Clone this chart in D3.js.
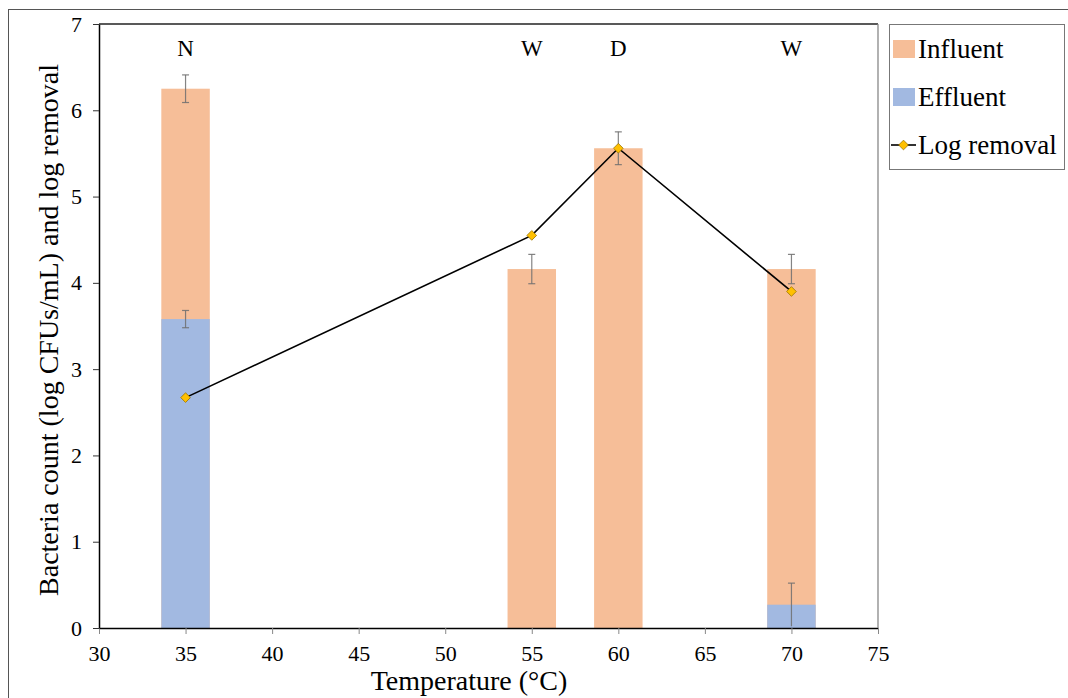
<!DOCTYPE html>
<html lang="en">
<head>
    <meta charset="UTF-8">
    <title>Bacteria count and log removal</title>
    <style>
        body { margin: 0; background: #fff; }
        svg { font-family: "Liberation Serif", Tinos, "Times New Roman", Times, serif; }
        svg text { fill: #000; }
    </style>
    <script src="https://d3js.org/d3.v7.min.js"></script>
</head>
<body>
    <svg width="1068" height="698"></svg>
    <script>
        // values
        const temps = [35, 55, 60, 70];
        const influent = [6.25, 4.16, 5.56, 4.16];
        const influentErr = [0.16, 0.17, 0.19, 0.17];
        const effluent = [3.58, 0, 0, 0.27];
        const effluentErr = [0.10, 0, 0, 0.25];
        const logRemoval = [2.67, 4.55, 5.56, 3.90];
        const flags = ["N", "W", "D", "W"];
        const xTicks = [30, 35, 40, 45, 50, 55, 60, 65, 70, 75];
        const yTicks = [0, 1, 2, 3, 4, 5, 6, 7];
        const legendItems = ["Influent", "Effluent", "Log removal"];

        const width = 1068, height = 698;
        const svg = d3.select("svg").attr("width", width).attr("height", height);

        const x = d3.scaleLinear().domain([30, 75]).range([99, 878]);
        const y = d3.scaleLinear().domain([0, 7]).range([628, 24]);
        const barW = x(32.8) - x(30);

        const colInf = "#f6be98", colEff = "#a2b9e1";

        // outer frame
        svg.append("rect")
            .attr("x", 8.5).attr("y", 9.5)
            .attr("width", width + 20).attr("height", height + 20)
            .attr("fill", "none").attr("stroke", "#555").attr("stroke-width", 1);

        const rows = temps.map((t, i) => ({
            t: t, inf: influent[i], infE: influentErr[i],
            eff: effluent[i], effE: effluentErr[i], lr: logRemoval[i], flag: flags[i]
        }));

        // bars: influent behind, effluent in front
        svg.append("g").selectAll("rect")
            .data(rows).enter().append("rect")
            .attr("x", d => x(d.t) - barW / 2)
            .attr("y", d => y(d.inf))
            .attr("width", barW)
            .attr("height", d => y(0) - y(d.inf))
            .attr("fill", colInf);

        svg.append("g").selectAll("rect")
            .data(rows.filter(d => d.eff > 0)).enter().append("rect")
            .attr("x", d => x(d.t) - barW / 2)
            .attr("y", d => y(d.eff))
            .attr("width", barW)
            .attr("height", d => y(0) - y(d.eff))
            .attr("fill", colEff);

        // error bars
        function errBars(vals, key, errKey) {
            const g = svg.append("g")
                .attr("stroke", "#6f6f6f").attr("stroke-opacity", 0.85).attr("stroke-width", 1.2);
            vals.filter(d => d[errKey] > 0).forEach(d => {
                const lo = Math.max(0, d[key] - d[errKey]), hi = d[key] + d[errKey];
                const cx = x(d.t);
                g.append("line").attr("x1", cx).attr("x2", cx).attr("y1", y(lo)).attr("y2", y(hi));
                g.append("line").attr("x1", cx - 3.5).attr("x2", cx + 3.5).attr("y1", y(hi)).attr("y2", y(hi));
                if (lo > 0.05) {
                    g.append("line").attr("x1", cx - 3.5).attr("x2", cx + 3.5).attr("y1", y(lo)).attr("y2", y(lo));
                }
            });
        }
        errBars(rows, "inf", "infE");
        errBars(rows, "eff", "effE");

        // axes
        const xAxis = svg.append("g")
            .attr("transform", `translate(0, ${y(0)})`)
            .call(d3.axisBottom(x).tickValues(xTicks).tickFormat(d3.format("d"))
                .tickSize(6).tickSizeOuter(0).tickPadding(11));
        xAxis.attr("font-family", null).attr("font-size", 22);
        xAxis.select(".domain").attr("stroke", "#000").attr("stroke-width", 1.5);
        xAxis.selectAll(".tick line").attr("stroke", "#888");

        const yAxis = svg.append("g")
            .attr("transform", `translate(${x(30)}, 0)`)
            .call(d3.axisLeft(y).tickValues(yTicks).tickFormat(d3.format("d"))
                .tickSize(6).tickSizeOuter(0).tickPadding(11));
        yAxis.attr("font-family", null).attr("font-size", 22);
        yAxis.select(".domain").attr("stroke", "#000").attr("stroke-width", 1.5);
        yAxis.selectAll(".tick line").attr("stroke", "#333");

        // plot frame top and right
        svg.append("line").attr("x1", x(30)).attr("x2", x(75)).attr("y1", y(7)).attr("y2", y(7))
            .attr("stroke", "#222").attr("stroke-width", 1.3);
        svg.append("line").attr("x1", x(75)).attr("x2", x(75)).attr("y1", y(7)).attr("y2", y(0))
            .attr("stroke", "#888").attr("stroke-width", 1.3);

        // log removal line + markers
        const line = d3.line().x(d => x(d.t)).y(d => y(d.lr));
        svg.append("path").datum(rows)
            .attr("d", line).attr("fill", "none").attr("stroke", "#000").attr("stroke-width", 1.6);

        const diamond = d3.symbol().type(d3.symbolDiamond2).size(60);
        svg.append("g").selectAll("path")
            .data(rows).enter().append("path")
            .attr("d", diamond)
            .attr("transform", d => `translate(${x(d.t)}, ${y(d.lr)})`)
            .attr("fill", "#ffc000").attr("stroke", "#9a7400").attr("stroke-width", 0.8);

        // flag letters above bars
        svg.append("g").selectAll("text")
            .data(rows).enter().append("text")
            .attr("x", d => x(d.t))
            .attr("y", 56)
            .attr("text-anchor", "middle")
            .attr("font-size", 23)
            .text(d => d.flag);

        // axis titles
        svg.append("text")
            .attr("x", 469).attr("y", 690)
            .attr("text-anchor", "middle")
            .attr("font-size", 28)
            .text("Temperature (°C)");

        svg.append("text")
            .attr("transform", "translate(58, 330) rotate(-90)")
            .attr("text-anchor", "middle")
            .attr("font-size", 28)
            .text("Bacteria count (log CFUs/mL) and log removal");

        // legend
        const lg = svg.append("g");
        lg.append("rect").attr("x", 889.5).attr("y", 24.5).attr("width", 175).attr("height", 145)
            .attr("fill", "#fff").attr("stroke", "#777").attr("stroke-width", 1);
        const lgY = [49, 97, 145];
        legendItems.forEach((name, i) => {
            if (i < 2) {
                lg.append("rect").attr("x", 893).attr("y", lgY[i] - 9).attr("width", 22).attr("height", 18)
                    .attr("fill", i === 0 ? colInf : colEff);
            } else {
                lg.append("line").attr("x1", 891).attr("x2", 916).attr("y1", lgY[i]).attr("y2", lgY[i])
                    .attr("stroke", "#000").attr("stroke-width", 1.6);
                lg.append("path").attr("d", diamond)
                    .attr("transform", `translate(903.5, ${lgY[i]})`)
                    .attr("fill", "#ffc000").attr("stroke", "#9a7400").attr("stroke-width", 0.8);
            }
            lg.append("text").attr("x", 918).attr("y", lgY[i] + 9)
                .attr("font-size", 27)
                .text(name);
        });
    </script>
</body>
</html>
